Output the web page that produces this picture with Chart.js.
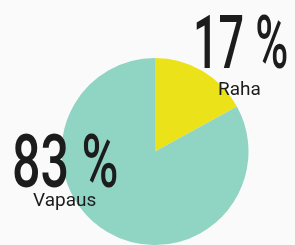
<!DOCTYPE html>
<html lang="fi">

<head>
   <meta charset="UTF-8">
   <title>Raha vai vapaus</title>
   <script src="https://cdn.jsdelivr.net/npm/chart.js@4.4.1/dist/chart.umd.min.js"></script>
   <style>
      html, body { margin: 0; padding: 0; background: #fafafa; }
      .chart-container { width: 295px; height: 245px; position: relative; }
   </style>
</head>

<body>
   <div class="chart-container">
      <canvas id="myChart"></canvas>
   </div>
   <script>
      const labels = ['Raha', 'Vapaus'];
      const values = [17, 83];
      const colors = ['#ece21a', '#90d4c3'];

      // where each big percent + small label goes (left x, baseline y, squeeze)
      const labelSpots = [
         { x: 193, y: 68, squeeze: 0.6, subX: 218, subY: 95 },
         { x: 12, y: 187, squeeze: 0.67, subX: 33, subY: 206 }
      ];

      const percentLabels = {
         id: 'percentLabels',
         afterDraw(chart) {
            const ctx = chart.ctx;
            const meta = chart.getDatasetMeta(0);
            ctx.save();
            ctx.fillStyle = '#1c1c1c';
            ctx.textAlign = 'left';
            ctx.textBaseline = 'alphabetic';
            meta.data.forEach((arc, i) => {
               const spot = labelSpots[i];
               const val = chart.data.datasets[0].data[i];
               ctx.save();
               ctx.translate(spot.x, spot.y);
               ctx.scale(spot.squeeze, 1);
               ctx.font = '500 75px Roboto';
               ctx.fillText(val + ' %', 0, 0);
               ctx.restore();
               ctx.font = '400 19px Roboto';
               ctx.fillText(chart.data.labels[i], spot.subX, spot.subY);
            });
            ctx.restore();
         }
      };

      const config = {
         type: 'pie',
         data: {
            labels: labels,
            datasets: [{
               data: values,
               backgroundColor: colors,
               borderWidth: 0
            }]
         },
         options: {
            responsive: true,
            maintainAspectRatio: false,
            animation: false,
            layout: {
               padding: { left: 61, right: 46, top: 58, bottom: 0 }
            },
            plugins: {
               legend: { display: false },
               tooltip: { enabled: false }
            }
         },
         plugins: [percentLabels]
      };

      const ctx = document.getElementById('myChart').getContext('2d');
      const chart = new Chart(ctx, config);
   </script>
</body>

</html>
